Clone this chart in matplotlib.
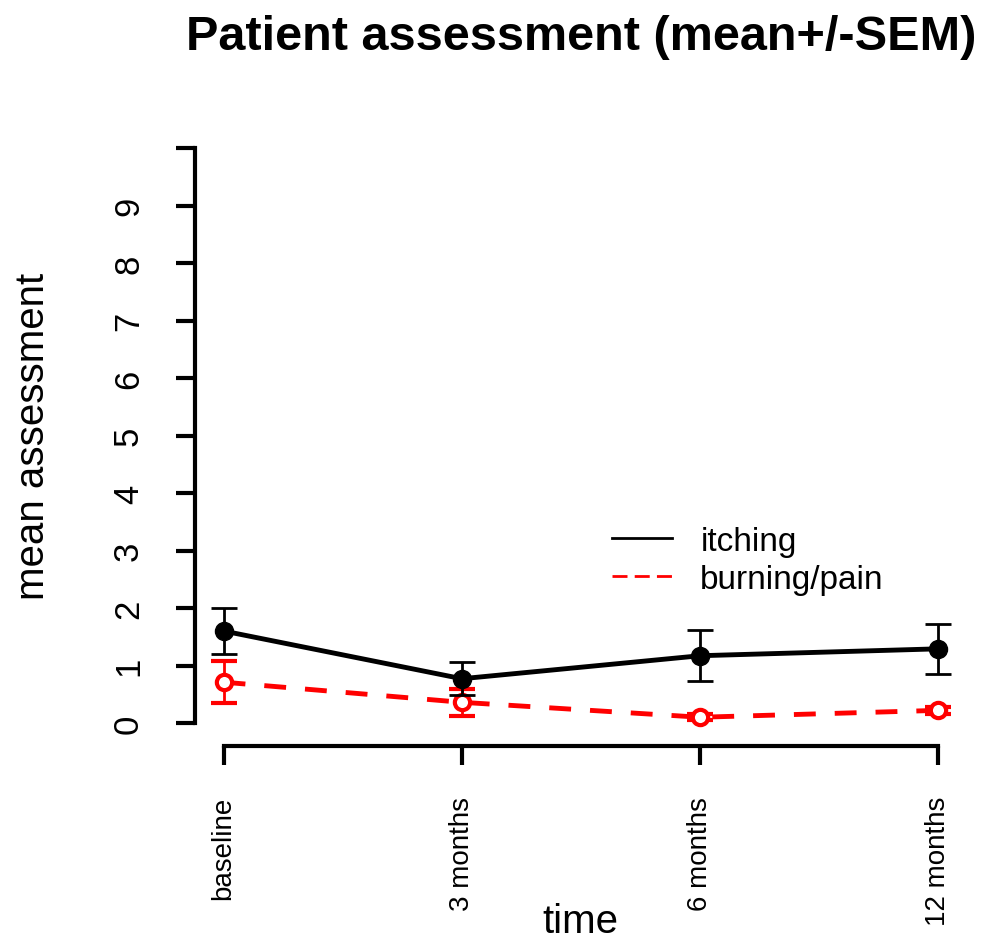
import matplotlib
matplotlib.use("Agg")
import matplotlib.pyplot as plt
from matplotlib.lines import Line2D

plt.rcParams['font.family'] = ['Liberation Sans', 'DejaVu Sans']

timepoints = ["baseline", "3 months", "6 months", "12 months"]
itching_mean = [1.60, 0.77, 1.17, 1.29]
itching_sem = [0.40, 0.29, 0.44, 0.43]
burning_mean = [0.71, 0.36, 0.10, 0.22]
burning_sem = [0.36, 0.23, 0.05, 0.06]
y_ticks = list(range(0, 11))
y_labels = [str(v) for v in range(0, 10)] + [""]

fig = plt.figure(figsize=(9.86, 9.53), dpi=100)
ax = fig.add_axes([195/986, 1-747/953, (967-195)/986, (747-126)/953])

x = list(range(1, len(timepoints)+1))

ax.errorbar(x, itching_mean, yerr=itching_sem, color='black', lw=3.5, ls='-',
            marker='o', ms=13, mfc='black', mec='black', ecolor='black',
            elinewidth=2, capsize=9.5, capthick=2, zorder=3)
ax.errorbar(x, burning_mean, yerr=burning_sem, color='red', lw=3.5, ls=(0, (4.5, 3.9)),
            marker='o', ms=11, mfc='white', mec='red', mew=3, ecolor='red',
            elinewidth=2, capsize=9.5, capthick=2, zorder=2)

ax.set_xlim(0.88, 4.12)
ax.set_ylim(-0.4, 10.4)

for s in ['top', 'right']:
    ax.spines[s].set_visible(False)
ax.spines['left'].set_bounds(0, 10)
ax.spines['bottom'].set_bounds(1, 4)
ax.spines['left'].set_linewidth(3)
ax.spines['bottom'].set_linewidth(3)

ax.set_yticks(y_ticks)
ax.set_yticklabels(y_labels, rotation=90, va='center', fontsize=25)
ax.set_xticks(x)
ax.set_xticklabels(timepoints, rotation=90, fontsize=20)
ax.tick_params(axis='both', direction='out', length=14, width=3)
ax.tick_params(axis='y', pad=22)
ax.tick_params(axis='x', pad=22)

fig.text(580/986, 1-922/953, "time", ha='center', va='center', fontsize=29)
fig.text(33/986, 1-436/953, "mean assessment", ha='center', va='center',
         rotation=90, fontsize=29)

fig.text(581/986, 1-38/953, "Patient assessment (mean+/-SEM)", ha='center', va='center',
         fontsize=35, fontweight='bold')

handles = [Line2D([], [], color='black', lw=2),
           Line2D([], [], color='red', lw=2, ls=(0, (5.4, 2.6)))]
ax.legend(handles, ["itching", "burning/pain"], loc='upper left',
          bbox_to_anchor=(612/986, 1-527/953), bbox_transform=fig.transFigure,
          frameon=False, fontsize=24, handlelength=1.8, handletextpad=0.85,
          borderpad=0, borderaxespad=0, labelspacing=0.2)

fig.savefig("out.png", dpi=100)
